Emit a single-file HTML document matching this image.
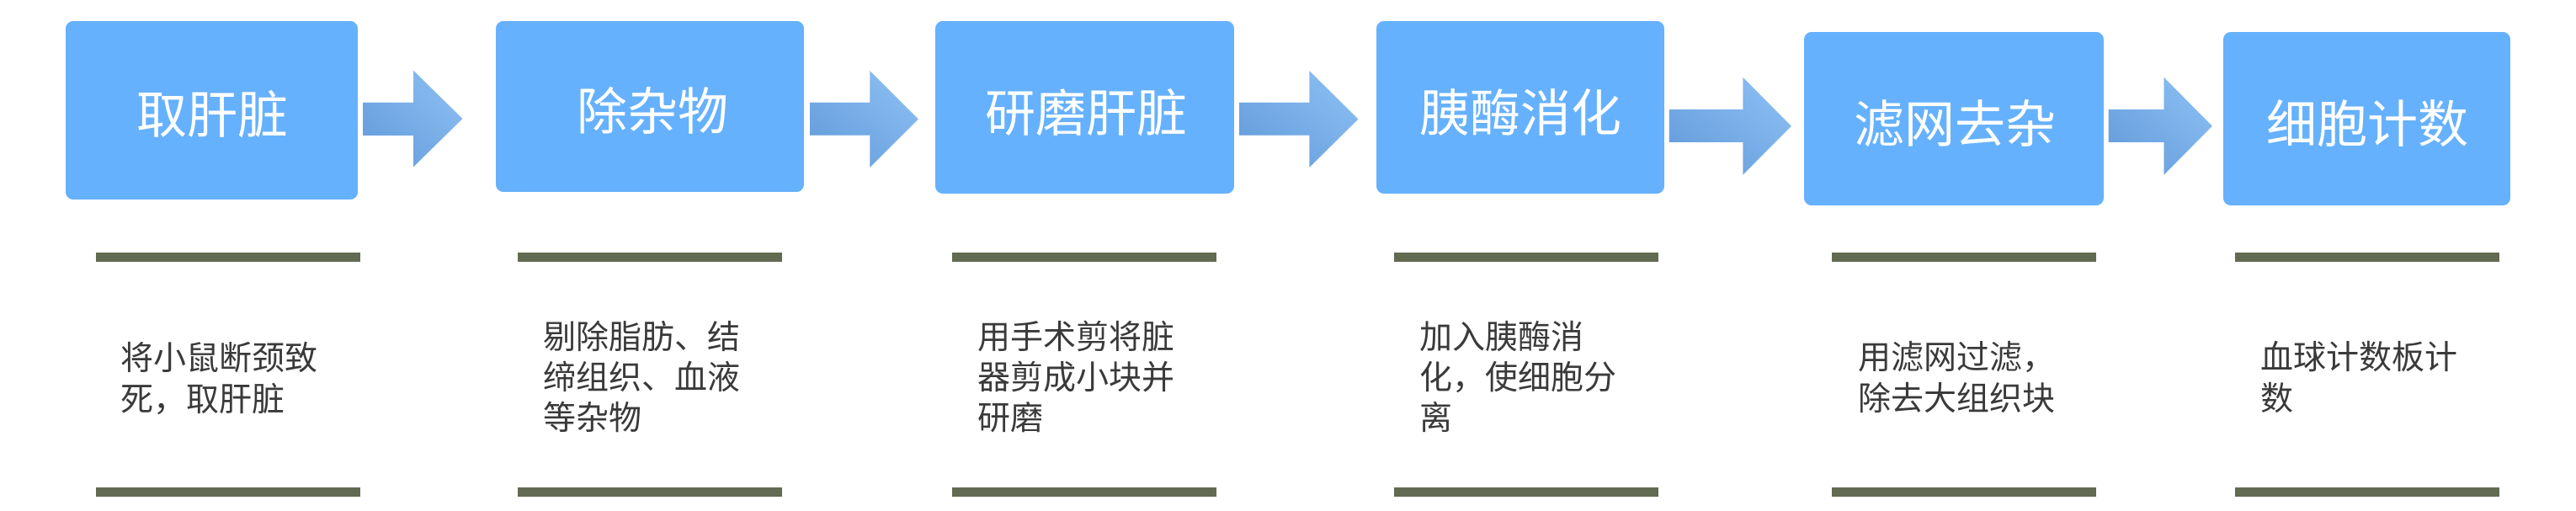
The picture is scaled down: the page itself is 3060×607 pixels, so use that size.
<!DOCTYPE html>
<html>
<head>
<meta charset="utf-8">
<style>
html,body{margin:0;padding:0;background:#ffffff;}
body{width:3060px;height:607px;position:relative;overflow:hidden;font-family:"Liberation Sans","Noto Sans CJK SC",sans-serif;}
.box{position:absolute;background:#66b1fd;border-radius:9px;}
.t{position:absolute;color:#ffffff;font-size:60px;line-height:60px;height:60px;white-space:nowrap;font-family:"Liberation Sans","Noto Sans CJK SC",sans-serif;}
.bar{position:absolute;background:#626a51;height:11px;}
.d{position:absolute;color:#3a3a3a;font-size:39px;white-space:nowrap;font-family:"Liberation Sans","Noto Sans CJK SC",sans-serif;}
svg{position:absolute;left:0;top:0;}
</style>
</head>
<body>
<svg width="3060" height="607" viewBox="0 0 3060 607">
<defs>
<linearGradient id="g" x1="0" y1="1" x2="1" y2="0">
<stop offset="0" stop-color="#6199d8"/>
<stop offset="1" stop-color="#8fc2f6"/>
</linearGradient>
</defs>
<polygon fill="url(#g)" points="431,121.7 491,121.7 491,83.5 549.5,141 491,198.5 491,161 431,161"/>
<polygon fill="url(#g)" points="962,121.7 1033.3,121.7 1033.3,84 1091,141.5 1033.3,199 1033.3,160.7 962,160.7"/>
<polygon fill="url(#g)" points="1472,121.7 1555.4,121.7 1555.4,84 1613.5,141.5 1555.4,199 1555.4,160.7 1472,160.7"/>
<polygon fill="url(#g)" points="1982.8,130 2070.4,130 2070.4,91.8 2128,149.8 2070.4,207.8 2070.4,169 1982.8,169"/>
<polygon fill="url(#g)" points="2504.7,130 2570.5,130 2570.5,91.8 2628,149.8 2570.5,207.8 2570.5,169 2504.7,169"/>
</svg>

<div class="box" style="left:78px;top:25px;width:347px;height:212px;"></div>
<div class="box" style="left:589px;top:25px;width:366px;height:203px;"></div>
<div class="box" style="left:1111px;top:25px;width:355px;height:205px;"></div>
<div class="box" style="left:1635px;top:25px;width:342px;height:205px;"></div>
<div class="box" style="left:2143px;top:38px;width:356px;height:206px;"></div>
<div class="box" style="left:2641px;top:38px;width:341px;height:206px;"></div>

<div class="t" style="left:162px;top:108px;">取肝脏</div>
<div class="t" style="left:685px;top:104px;">除杂物</div>
<div class="t" style="left:1170px;top:106px;">研磨肝脏</div>
<div class="t" style="left:1686px;top:106px;">胰酶消化</div>
<div class="t" style="left:2202px;top:119px;">滤网去杂</div>
<div class="t" style="left:2692px;top:119px;">细胞计数</div>

<div class="bar" style="left:114px;top:300px;width:314px;"></div>
<div class="bar" style="left:615px;top:300px;width:314px;"></div>
<div class="bar" style="left:1131px;top:300px;width:314px;"></div>
<div class="bar" style="left:1656px;top:300px;width:314px;"></div>
<div class="bar" style="left:2176px;top:300px;width:314px;"></div>
<div class="bar" style="left:2655px;top:300px;width:314px;"></div>

<div class="bar" style="left:114px;top:579px;width:314px;"></div>
<div class="bar" style="left:615px;top:579px;width:314px;"></div>
<div class="bar" style="left:1131px;top:579px;width:314px;"></div>
<div class="bar" style="left:1656px;top:579px;width:314px;"></div>
<div class="bar" style="left:2176px;top:579px;width:314px;"></div>
<div class="bar" style="left:2655px;top:579px;width:314px;"></div>

<div class="d" style="left:143px;top:402px;line-height:49px;">将小鼠断颈致<br>死，取肝脏</div>
<div class="d" style="left:645px;top:378px;line-height:48px;">剔除脂肪、结<br>缔组织、血液<br>等杂物</div>
<div class="d" style="left:1161px;top:378px;line-height:48px;">用手术剪将脏<br>器剪成小块并<br>研磨</div>
<div class="d" style="left:1686px;top:378px;line-height:48px;">加入胰酶消<br>化，使细胞分<br>离</div>
<div class="d" style="left:2207px;top:401px;line-height:49px;">用滤网过滤，<br>除去大组织块</div>
<div class="d" style="left:2685px;top:401px;line-height:49px;">血球计数板计<br>数</div>
</body>
</html>
